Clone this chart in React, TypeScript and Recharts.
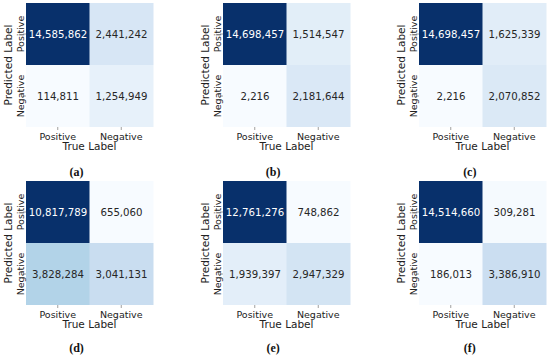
import React from 'react';
import { BarChart, Bar, XAxis, YAxis, Cell, LabelList } from 'recharts';

// one entry per sub-figure, (a) .. (f)
const panelTags = ['(a)', '(b)', '(c)', '(d)', '(e)', '(f)'];
const trueLabels = ['Positive', 'Negative'];

// predicted Positive row
const predPosTruePos = [14585862, 14698457, 14698457, 10817789, 12761276, 14514660];
const predPosTrueNeg = [2441242, 1514547, 1625339, 655060, 748862, 309281];
// predicted Negative row
const predNegTruePos = [114811, 2216, 2216, 3828284, 1939397, 186013];
const predNegTrueNeg = [1254949, 2181644, 2070852, 3041131, 2947329, 3386910];

const FONT = '"DejaVu Sans", sans-serif';

// matplotlib "Blues"
const BLUES = [
  [247, 251, 255], [222, 235, 247], [198, 219, 239], [158, 202, 225], [107, 174, 214],
  [66, 146, 198], [33, 113, 181], [8, 81, 156], [8, 48, 107],
];

const blues = (t: number) => {
  const s = Math.min(Math.max(t, 0), 1) * (BLUES.length - 1);
  const i = Math.min(Math.floor(s), BLUES.length - 2);
  const f = s - i;
  return BLUES[i].map((c, k) => Math.round(c + (BLUES[i + 1][k] - c) * f));
};

const rgb = (c: number[]) => `rgb(${c[0]},${c[1]},${c[2]})`;

// same rule seaborn uses to pick annotation colour
const textColour = (c: number[]) => {
  const lin = c.map((v) => {
    const x = v / 255;
    return x <= 0.03928 ? x / 12.92 : Math.pow((x + 0.055) / 1.055, 2.4);
  });
  const lum = 0.2126 * lin[0] + 0.7152 * lin[1] + 0.0722 * lin[2];
  return lum > 0.408 ? '#262626' : '#ffffff';
};

const colX = [0, 196.7, 393.3];
const rowY = [0, 178];

const Panel = ({ index }: { index: number }) => {
  const values = [predPosTruePos[index], predPosTrueNeg[index], predNegTruePos[index], predNegTrueNeg[index]];
  const min = Math.min(...values);
  const max = Math.max(...values);
  const norm = (v: number) => (v - min) / (max - min);

  const data = trueLabels.map((label, j) => ({
    trueLabel: label,
    posBand: 1,
    negBand: 1,
    posValue: j === 0 ? predPosTruePos[index] : predPosTrueNeg[index],
    negValue: j === 0 ? predNegTruePos[index] : predNegTrueNeg[index],
  }));

  const renderValue = (props: any) => {
    const { x, y, width, height, value } = props;
    const c = blues(norm(Number(value)));
    return (
      <text
        x={Number(x) + Number(width) / 2}
        y={Number(y) + Number(height) / 2}
        dy="0.36em"
        textAnchor="middle"
        fontFamily={FONT}
        fontSize={10.2}
        fill={textColour(c)}
      >
        {Number(value).toLocaleString('en-US')}
      </text>
    );
  };

  const xTick = (props: any) => (
    <text x={props.x} y={props.y} dy="0.71em" textAnchor="middle" fontFamily={FONT} fontSize={9.5} fill="#222">
      {props.payload.value}
    </text>
  );

  const yTick = (props: any) => {
    const x = props.x + 1;
    const y = props.y;
    return (
      <text x={x} y={y} transform={`rotate(-90 ${x} ${y})`} textAnchor="middle" fontFamily={FONT} fontSize={9.5} fill="#222">
        {props.payload.value === 1.5 ? 'Positive' : 'Negative'}
      </text>
    );
  };

  const xLabel = (props: any) => {
    const vb = props.viewBox;
    return (
      <text x={vb.x + vb.width / 2} y={vb.y + 22.5} textAnchor="middle" fontFamily={FONT} fontSize={10.5} fill="#222">
        True Label
      </text>
    );
  };

  const yLabel = (props: any) => {
    const vb = props.viewBox;
    const x = vb.x + 12;
    const y = vb.y + vb.height / 2;
    return (
      <text x={x} y={y} transform={`rotate(-90 ${x} ${y})`} textAnchor="middle" fontFamily={FONT} fontSize={10.5} fill="#222">
        Predicted Label
      </text>
    );
  };

  const left = colX[index % 3];
  const top = rowY[Math.floor(index / 3)];

  return (
    <div style={{ position: 'absolute', left, top, width: 180, height: 180 }}>
      <BarChart
        width={157}
        height={152}
        data={data}
        margin={{ top: 3, right: 4, left: 0, bottom: 0 }}
        barCategoryGap={0}
        barGap={0}
      >
        <XAxis
          dataKey="trueLabel"
          height={25}
          axisLine={false}
          tickSize={3}
          tickMargin={3}
          tickLine={{ stroke: '#888', strokeWidth: 0.8 }}
          tick={xTick}
          interval={0}
          label={{ content: xLabel }}
        />
        <YAxis
          type="number"
          domain={[0, 2]}
          ticks={[0.5, 1.5]}
          width={26}
          axisLine={false}
          tickSize={3}
          tickMargin={0}
          tickLine={{ stroke: '#888', strokeWidth: 0.8 }}
          tick={yTick}
          label={{ content: yLabel }}
        />
        <Bar dataKey="negBand" stackId="m" isAnimationActive={false}>
          {data.map((d, i) => (
            <Cell key={i} fill={rgb(blues(norm(d.negValue)))} />
          ))}
          <LabelList dataKey="negValue" content={renderValue} />
        </Bar>
        <Bar dataKey="posBand" stackId="m" isAnimationActive={false}>
          {data.map((d, i) => (
            <Cell key={i} fill={rgb(blues(norm(d.posValue)))} />
          ))}
          <LabelList dataKey="posValue" content={renderValue} />
        </Bar>
      </BarChart>
      <div
        style={{
          position: 'absolute',
          left: 0,
          width: 153,
          top: index < 3 ? 163 : 161,
          textAlign: 'center',
          fontFamily: '"Liberation Serif", "DejaVu Serif", serif',
          fontSize: 12,
          fontWeight: 'bold',
          lineHeight: '18px',
          color: '#111',
        }}
      >
        {panelTags[index]}
      </div>
    </div>
  );
};

const App: React.FC = () => (
  <div style={{ position: 'absolute', left: 0, top: 0, width: 550, height: 359, background: '#fff', overflow: 'hidden' }}>
    {panelTags.map((_, i) => (
      <Panel key={i} index={i} />
    ))}
  </div>
);

export default App;
